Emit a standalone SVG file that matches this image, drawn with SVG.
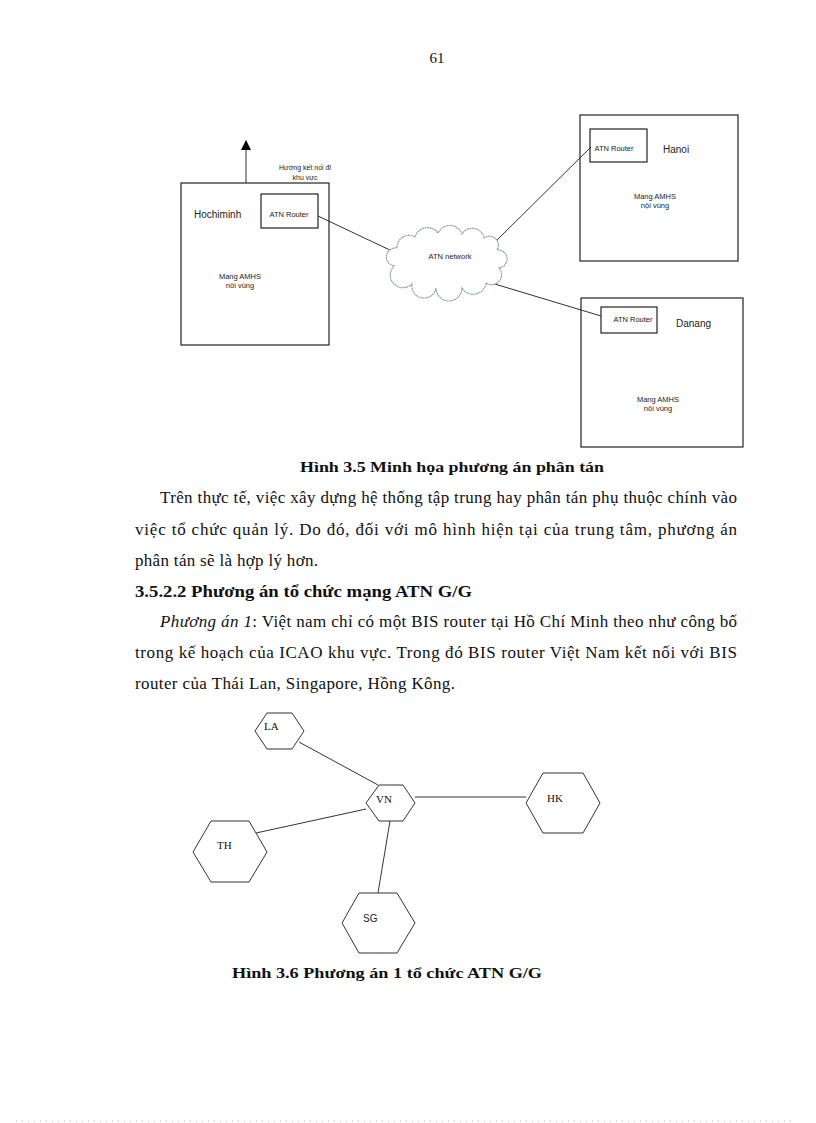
<svg xmlns="http://www.w3.org/2000/svg" width="816" height="1123" viewBox="0 0 816 1123">
<defs>
<marker id="arr" markerWidth="10" markerHeight="10" refX="9" refY="5" orient="auto" markerUnits="userSpaceOnUse" viewBox="0 0 10 10">
<path d="M0,0 L10,5 L0,10 Z" fill="#000"/>
</marker>
<style>
.box{fill:none;stroke:#222;stroke-width:1.2}
.ln{stroke:#333;stroke-width:1;fill:none}
.hex{fill:#fff;stroke:#333;stroke-width:1}
.s{font-family:"Liberation Sans",Arial,sans-serif;fill:#222}
.t{font-family:"Liberation Serif","Times New Roman",serif;fill:#111}
.body{font-family:"Liberation Serif","Times New Roman",serif;font-size:17px;fill:#111}
</style>
</defs>
<rect width="816" height="1123" fill="#fff"/>
<text class="t" x="437" y="63" font-size="15" text-anchor="middle">61</text>

<g id="connectors">
<line class="ln" x1="246" y1="183" x2="246" y2="141" marker-end="url(#arr)"/>
<line class="ln" x1="318" y1="216" x2="394" y2="252"/>
<line class="ln" x1="495" y1="242" x2="591" y2="147"/>
<line class="ln" x1="488" y1="282" x2="601" y2="316"/>
<line class="ln" x1="299" y1="742" x2="378" y2="785"/>
<line class="ln" x1="256" y1="833" x2="366" y2="809"/>
<line class="ln" x1="415" y1="797" x2="526" y2="797"/>
<line class="ln" x1="390" y1="821" x2="378" y2="893"/>
</g>

<g id="hochiminh">
<rect class="box" x="181" y="183" width="148" height="162"/>
<text class="s" x="194" y="218" font-size="10">Hochiminh</text>
<text class="s" x="240" y="279" font-size="7.5" text-anchor="middle">Mang AMHS</text>
<text class="s" x="240" y="288" font-size="7.5" text-anchor="middle">nôi vùng</text>
</g>
<g id="hcm-router">
<rect class="box" x="261" y="194" width="57" height="34"/>
<text class="s" x="289" y="217" font-size="7.5" text-anchor="middle">ATN Router</text>
</g>
<g id="direction-label">
<text class="s" x="305" y="170" font-size="7" text-anchor="middle">Hướng kết nối đi</text>
<text class="s" x="305" y="180" font-size="7" text-anchor="middle">khu vực</text>
</g>

<g id="atn-network">
<path d="M394,266 A9,9 0 0 1 397,248 A12,12 0 0 1 415,237 A13,13 0 0 1 438,233 A13,13 0 0 1 462,234 A12,12 0 0 1 484,238 A9,9 0 0 1 497,250 A9,9 0 0 1 499,268 A10,10 0 0 1 486,283 A13,13 0 0 1 462,288 A13,13 0 0 1 436,288 A12,12 0 0 1 412,284 A10,10 0 0 1 394,266 Z" fill="#fff" stroke="#7f9cab" stroke-width="1.1" stroke-dasharray="2 0.6"/>
<text class="s" x="450" y="259" font-size="7.5" text-anchor="middle">ATN network</text>
</g>

<g id="hanoi">
<rect class="box" x="580" y="115" width="158" height="146"/>
<text class="s" x="663" y="153" font-size="10">Hanoi</text>
<text class="s" x="655" y="199" font-size="7.5" text-anchor="middle">Mang AMHS</text>
<text class="s" x="655" y="208" font-size="7.5" text-anchor="middle">nội vùng</text>
</g>
<g id="hanoi-router">
<rect class="box" x="590" y="129" width="57" height="33"/>
<text class="s" x="614" y="151" font-size="7.5" text-anchor="middle">ATN Router</text>
</g>

<g id="danang">
<rect class="box" x="581" y="298" width="162" height="149"/>
<text class="s" x="676" y="327" font-size="10">Danang</text>
<text class="s" x="658" y="402" font-size="7.5" text-anchor="middle">Mang AMHS</text>
<text class="s" x="658" y="411" font-size="7.5" text-anchor="middle">nôi vùng</text>
</g>
<g id="danang-router">
<rect class="box" x="601" y="307" width="56" height="26"/>
<text class="s" x="633" y="322" font-size="7.5" text-anchor="middle">ATN Router</text>
</g>

<text class="t" x="452" y="472" font-size="15" font-weight="bold" text-anchor="middle" textLength="304" lengthAdjust="spacingAndGlyphs">Hình 3.5 Minh họa phương án phân tán</text>

<text class="body" x="160" y="503" textLength="577" lengthAdjust="spacing">Trên thực tế, việc xây dựng hệ thống tập trung hay phân tán phụ thuộc chính vào</text>
<text class="body" x="135" y="535" textLength="602" lengthAdjust="spacing">việc tổ chức quản lý. Do đó, đối với mô hình hiện tại của trung tâm, phương án</text>
<text class="body" x="135" y="566" textLength="183" lengthAdjust="spacing">phân tán sẽ là hợp lý hơn.</text>
<text class="t" x="135" y="597" font-size="17" font-weight="bold" textLength="337" lengthAdjust="spacingAndGlyphs">3.5.2.2 Phương án tổ chức mạng ATN G/G</text>
<text class="body" x="160" y="627" textLength="577" lengthAdjust="spacing"><tspan font-style="italic">Phương án 1</tspan>: Việt nam chỉ có một BIS router tại Hồ Chí Minh theo như công bố</text>
<text class="body" x="135" y="658" textLength="602" lengthAdjust="spacing">trong kế hoạch của ICAO khu vực. Trong đó BIS router Việt Nam kết nối với BIS</text>
<text class="body" x="135" y="689" textLength="320" lengthAdjust="spacing">router của Thái  Lan, Singapore, Hồng Kông.</text>

<g id="LA">
<polygon class="hex" points="267,713 292,713 304,731 292,749 267,749 255,731"/>
<text class="t" x="264" y="730" font-size="11">LA</text>
</g>
<g id="VN">
<polygon class="hex" points="379,785 403,785 415,803 403,821 379,821 366,803"/>
<text class="t" x="376" y="803" font-size="11">VN</text>
</g>
<g id="TH">
<polygon class="hex" points="211,821 249,821 267,852 249,882 211,882 193,852"/>
<text class="t" x="217" y="849" font-size="11">TH</text>
</g>
<g id="HK">
<polygon class="hex" points="543,773 583,773 600,803 583,833 543,833 526,803"/>
<text class="t" x="547" y="802" font-size="11">HK</text>
</g>
<g id="SG">
<polygon class="hex" points="359,893 397,893 415,923 397,953 359,953 342,923"/>
<text class="s" x="363" y="922" font-size="10">SG</text>
</g>

<text class="t" x="232" y="978" font-size="15" font-weight="bold" textLength="310" lengthAdjust="spacingAndGlyphs">Hình 3.6 Phương án 1 tổ chức ATN  G/G</text>

<line x1="16" y1="1121" x2="796" y2="1121" stroke="#bbb" stroke-width="1" stroke-dasharray="1 5"/>
</svg>
